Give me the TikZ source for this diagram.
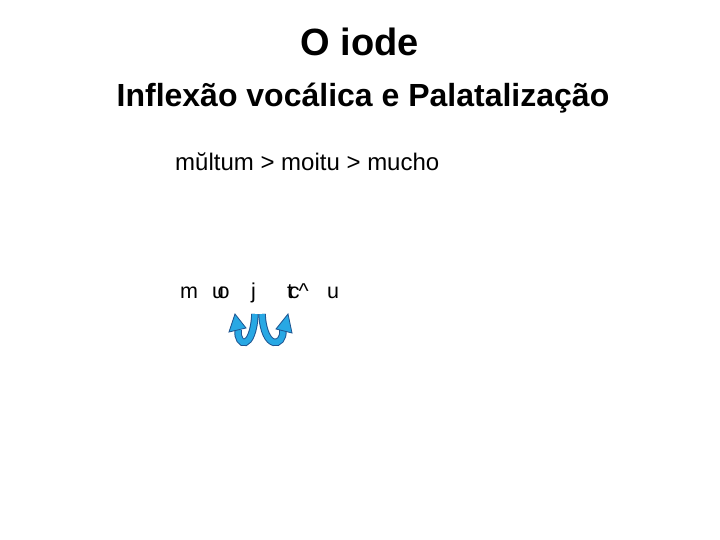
\documentclass[tikz,border=0pt]{standalone}
\usepackage{fontspec}
\setmainfont{Liberation Sans}
\begin{document}
\begin{tikzpicture}[x=1pt,y=-1pt,
  txt/.style={inner sep=0pt,anchor=base west,font=\fontsize{21.5}{26}\selectfont},
  band/.style={line width=7.5pt,draw=arrdark,line cap=butt},
  bandin/.style={line width=5.5pt,draw=arrlight,line cap=butt},
  head/.style={fill=arrlight,draw=arrdark,line width=0.8pt,line join=miter}]
\definecolor{arrlight}{RGB}{40,168,228}
\definecolor{arrdark}{RGB}{30,85,145}
\useasboundingbox (0,0) rectangle (720,540);
\node[inner sep=0pt,anchor=base,font=\bfseries\fontsize{38}{44}\selectfont] (title) at (360,56) {O iode};
\node[inner sep=0pt,anchor=base,font=\bfseries\fontsize{32}{38}\selectfont] (sub) at (363,107) {Inflexão vocálica e Palatalização};
\node[txt,font=\fontsize{24}{28}\selectfont] (ex) at (175,171) {mŭltum > moitu > mucho};
\node[txt] (m) at (180,298) {m};
\node[txt] (uo) at (212,298) {u\kern-0.3em o};
\node[txt] (j) at (251,298) {j};
\node[txt] (tc) at (287,298) {t\kern-0.2em c\kern-0.05em\textasciicircum};
\node[txt] (u) at (327,298) {u};
% arrows
\coordinate (ls) at (255,314);
\coordinate (le) at (238,330);
\coordinate (rs) at (262,314);
\coordinate (re) at (283,330);
\draw[band] (ls) .. controls (253,351) and (237,347) .. (le);
\draw[bandin] (ls) .. controls (253,351) and (237,347) .. (le);
\draw[head] (229,332) -- (235,314) -- (246,328) -- cycle;
\draw[band] (rs) .. controls (264,351) and (284,347) .. (re);
\draw[bandin] (rs) .. controls (264,351) and (284,347) .. (re);
\draw[head] (276,329) -- (288,314) -- (292,333) -- cycle;
\end{tikzpicture}
\end{document}
